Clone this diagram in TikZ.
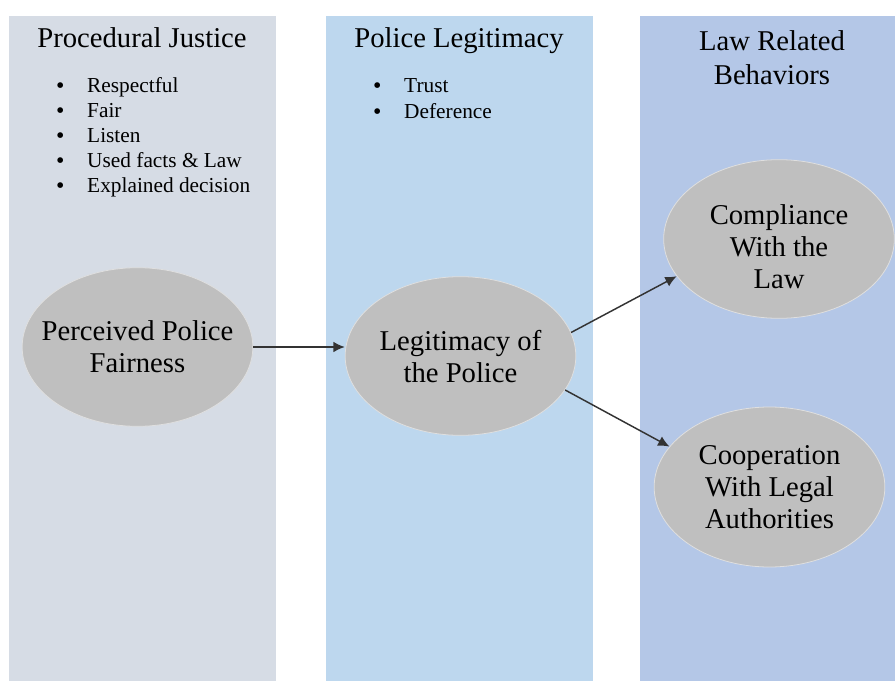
\documentclass[tikz,border=0pt]{standalone}
\usepackage{fontspec}
\setmainfont{Liberation Serif}
\usepackage{xcolor}
\usetikzlibrary{arrows.meta, shapes.geometric}

\definecolor{pjBlue}{HTML}{D6DCE5}
\definecolor{plBlue}{HTML}{BDD7EE}
\definecolor{lrBlue}{HTML}{B4C7E7}
\definecolor{bubbleGray}{HTML}{BFBFBF}

% 稍大一点的圆点
\newcommand{\itemdot}{\raisebox{-0.03em}{\scalebox{1.12}{\textbullet}}}

\begin{document}
\begin{tikzpicture}[x=0.75pt, y=-0.75pt,
    bubble/.style={ellipse, fill=bubbleGray, draw=gray!25, line width=0.6pt,
                   minimum width=173pt, minimum height=119pt, inner sep=0pt},
    bubbletext/.style={align=center, inner sep=0pt, font=\fontsize{21.5}{24}\selectfont},
    heading/.style={align=center, inner sep=0pt, font=\fontsize{21.5}{25.5}\selectfont},
    items/.style={anchor=base west, inner sep=0pt, font=\fontsize{16}{18.75}\selectfont},
    flow/.style={-{Latex[length=8.5pt, width=8pt]}, line width=1.1pt, draw=black!80}]
        \useasboundingbox (0,0) rectangle (895,681);

        % 三个背景栏
        \fill[pjBlue] (9,16) rectangle (276,681);
        \fill[plBlue] (326,16) rectangle (593,681);
        \fill[lrBlue] (640,16) rectangle (895,681);

        % 栏标题
        \node[heading, anchor=base] (pjHead) at (142,48) {Procedural Justice};
        \node[heading, anchor=base] (plHead) at (459,48) {Police Legitimacy};
        \node[heading] (lrHead) at (772,57.5) {Law Related\\Behaviors};

        % 要点列表
        \node[items] (pjList) at (55.8,93) {\begin{tabular}[t]{@{}l@{\hspace{17.1pt}}l@{}}
            \itemdot & Respectful\\
            \itemdot & Fair\\
            \itemdot & Listen\\
            \itemdot & Used facts \& Law\\
            \itemdot & Explained decision
        \end{tabular}};
        \node[items, font=\fontsize{16}{19.5}\selectfont] (plList) at (372.8,93) {\begin{tabular}[t]{@{}l@{\hspace{17.1pt}}l@{}}
            \itemdot & Trust\\
            \itemdot & Deference
        \end{tabular}};

        % 椭圆
        \node[bubble] (fair) at (137.5,347) {};
        \node[bubbletext] (fairText) at (137.5,346.5) {Perceived Police\\Fairness};

        \node[bubble] (legit) at (460.5,356) {};
        \node[bubbletext] (legitText) at (460.5,356.5) {Legitimacy of\\the Police};

        \node[bubble] (comply) at (779,239) {};
        \node[bubbletext] (complyText) at (779,246.5) {Compliance\\With the\\Law};

        \node[bubble, minimum height=120pt] (coop) at (769.5,487) {};
        \node[bubbletext] (coopText) at (769.5,487) {Cooperation\\With Legal\\Authorities};

        % 箭头
        \draw[flow] (fair.east) -- (fair.east -| legit.west);
        \draw[flow] (legit.12) -- (comply.200);
        \draw[flow] (legit.-18) -- (coop.158);
    \end{tikzpicture}
\end{document}
